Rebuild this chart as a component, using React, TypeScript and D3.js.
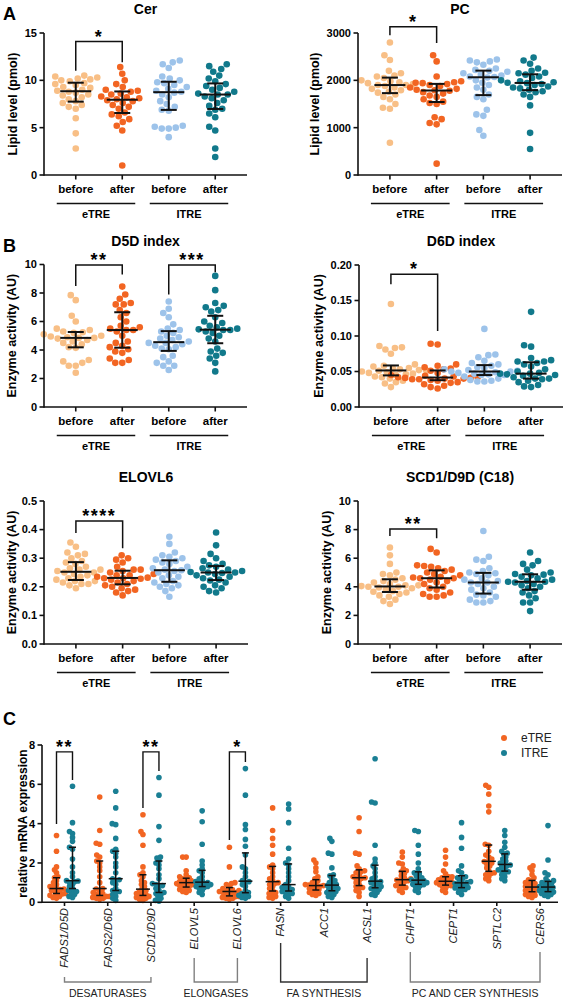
import React from "react";
import * as d3 from "d3";

// ---------- shared labels / colours ----------
const categories = ["before", "after", "before", "after"];
const studyGroups = ["eTRE", "ITRE"];
const groupColors = ["#F8BF86", "#F26522", "#9DC3EA", "#11798B"];
const FONT = "'Liberation Sans', Arial, sans-serif";

// ---------- panel A ----------
const cerEtreBefore = [10.5, 10.4, 10.3, 10.2, 10.1, 10.0, 9.9, 9.7, 9.6, 9.5, 9.3, 9.2, 9.0, 8.9, 8.8, 8.7, 8.5, 8.4, 8.2, 8.0, 7.8, 7.6, 7.4, 7.2, 7.0, 6.0, 4.4, 2.8];
const cerEtreAfter = [11.4, 10.7, 10.0, 9.6, 9.3, 9.0, 8.9, 8.8, 8.6, 8.5, 8.3, 8.2, 8.1, 8.0, 7.9, 7.8, 7.6, 7.4, 7.2, 7.0, 6.6, 6.4, 6.2, 5.9, 5.6, 5.2, 4.7, 1.0];
const cerItreBefore = [12.1, 11.9, 11.7, 11.3, 10.4, 10.2, 10.0, 9.8, 9.7, 9.5, 9.3, 9.1, 8.9, 8.8, 8.7, 8.5, 8.2, 7.8, 7.5, 7.2, 6.9, 6.8, 5.2, 5.1, 5.0, 4.9, 4.9, 4.0];
const cerItreAfter = [11.7, 11.5, 11.2, 10.9, 10.5, 10.2, 9.9, 9.6, 9.4, 9.2, 9.0, 8.8, 8.6, 8.5, 8.5, 8.3, 8.1, 7.9, 7.6, 7.3, 7.0, 6.9, 6.5, 6.1, 5.1, 4.7, 2.8, 1.9];

const pcEtreBefore = [2800, 2530, 2430, 2200, 2150, 2100, 2080, 2050, 2000, 1980, 1960, 1940, 1920, 1900, 1900, 1880, 1850, 1820, 1790, 1760, 1740, 1700, 1650, 1600, 1500, 1420, 1400, 680];
const pcEtreAfter = [2530, 2400, 2080, 1980, 1960, 1950, 1940, 1920, 1900, 1880, 1850, 1820, 1800, 1790, 1780, 1750, 1720, 1680, 1650, 1600, 1550, 1520, 1500, 1220, 1180, 1100, 1070, 240];
const pcItreBefore = [2440, 2420, 2400, 2380, 2330, 2250, 2220, 2200, 2180, 2150, 2120, 2100, 2080, 2070, 2060, 2000, 1950, 1900, 1850, 1800, 1700, 1650, 1600, 1380, 1280, 1250, 950, 830];
const pcItreAfter = [2480, 2420, 2350, 2250, 2200, 2160, 2150, 2120, 2080, 2050, 2000, 1980, 1960, 1950, 1940, 1920, 1900, 1870, 1850, 1830, 1800, 1770, 1750, 1700, 1650, 1470, 890, 550];

// ---------- panel B ----------
const d5dEtreBefore = [7.85, 7.5, 6.4, 6.0, 5.5, 5.4, 5.3, 5.25, 5.2, 5.1, 5.0, 4.95, 4.9, 4.85, 4.85, 4.8, 4.7, 4.6, 4.5, 4.4, 4.2, 4.15, 3.3, 3.2, 3.1, 2.9, 2.9, 2.4];
const d5dEtreAfter = [8.45, 7.9, 7.6, 7.3, 7.2, 7.2, 6.8, 6.6, 6.3, 6.0, 5.7, 5.6, 5.5, 5.4, 5.4, 5.3, 5.0, 4.6, 4.5, 4.3, 4.2, 4.05, 3.9, 3.8, 3.4, 3.3, 3.1, 3.1];
const d5dItreBefore = [7.4, 6.9, 6.6, 6.3, 5.8, 5.5, 5.4, 5.3, 5.2, 5.0, 4.9, 4.8, 4.7, 4.6, 4.5, 4.5, 4.4, 4.3, 4.2, 4.1, 4.05, 3.6, 3.5, 3.2, 3.1, 2.9, 2.9, 2.6];
const d5dItreAfter = [9.2, 8.2, 7.3, 7.1, 7.0, 6.8, 6.7, 6.3, 6.0, 5.9, 5.7, 5.6, 5.5, 5.45, 5.4, 5.4, 5.3, 5.2, 5.0, 4.8, 4.6, 4.1, 3.9, 3.8, 3.6, 3.4, 3.1, 2.5];

const d6dEtreBefore = [0.145, 0.086, 0.084, 0.083, 0.081, 0.075, 0.06, 0.058, 0.057, 0.055, 0.054, 0.053, 0.052, 0.052, 0.051, 0.05, 0.049, 0.048, 0.047, 0.046, 0.045, 0.043, 0.042, 0.04, 0.037, 0.035, 0.033, 0.028];
const d6dEtreAfter = [0.089, 0.088, 0.06, 0.058, 0.056, 0.054, 0.053, 0.051, 0.048, 0.045, 0.044, 0.043, 0.042, 0.042, 0.041, 0.041, 0.04, 0.04, 0.039, 0.039, 0.038, 0.037, 0.035, 0.034, 0.032, 0.03, 0.028, 0.026];
const d6dItreBefore = [0.11, 0.074, 0.073, 0.07, 0.065, 0.062, 0.06, 0.058, 0.056, 0.055, 0.053, 0.052, 0.051, 0.05, 0.05, 0.049, 0.048, 0.047, 0.046, 0.045, 0.045, 0.043, 0.04, 0.038, 0.037, 0.036, 0.036];
const d6dItreAfter = [0.134, 0.087, 0.085, 0.069, 0.066, 0.064, 0.064, 0.062, 0.06, 0.057, 0.053, 0.05, 0.048, 0.047, 0.047, 0.046, 0.045, 0.044, 0.042, 0.04, 0.04, 0.039, 0.037, 0.035, 0.031, 0.029, 0.028];

const elovlEtreBefore = [0.355, 0.34, 0.32, 0.315, 0.31, 0.3, 0.29, 0.285, 0.28, 0.27, 0.265, 0.26, 0.26, 0.255, 0.25, 0.25, 0.245, 0.24, 0.235, 0.23, 0.225, 0.22, 0.22, 0.215, 0.21, 0.21, 0.205, 0.195];
const elovlEtreAfter = [0.31, 0.3, 0.295, 0.285, 0.27, 0.26, 0.26, 0.255, 0.25, 0.245, 0.24, 0.24, 0.235, 0.232, 0.23, 0.23, 0.228, 0.225, 0.22, 0.215, 0.21, 0.205, 0.2, 0.195, 0.19, 0.185, 0.18, 0.17];
const elovlItreBefore = [0.375, 0.35, 0.32, 0.31, 0.305, 0.3, 0.295, 0.29, 0.285, 0.28, 0.27, 0.265, 0.26, 0.258, 0.255, 0.25, 0.24, 0.235, 0.23, 0.22, 0.215, 0.21, 0.205, 0.2, 0.195, 0.185, 0.165];
const elovlItreAfter = [0.39, 0.345, 0.315, 0.3, 0.29, 0.28, 0.275, 0.27, 0.265, 0.26, 0.255, 0.252, 0.25, 0.25, 0.248, 0.245, 0.24, 0.235, 0.23, 0.225, 0.222, 0.215, 0.205, 0.2, 0.195, 0.185, 0.18];

const scdEtreBefore = [6.75, 6.2, 5.6, 5.0, 4.9, 4.8, 4.6, 4.5, 4.4, 4.3, 4.2, 4.1, 4.1, 4.05, 4.0, 4.0, 3.95, 3.9, 3.8, 3.7, 3.65, 3.6, 3.5, 3.4, 3.3, 3.1, 3.0, 2.8];
const scdEtreAfter = [6.65, 6.4, 5.5, 5.45, 5.4, 5.3, 5.2, 5.1, 5.0, 4.9, 4.8, 4.7, 4.65, 4.6, 4.6, 4.5, 4.4, 4.3, 4.2, 4.0, 3.9, 3.8, 3.6, 3.5, 3.4, 3.3, 3.3];
const scdItreBefore = [7.9, 6.1, 5.9, 5.8, 5.3, 5.1, 5.0, 4.95, 4.9, 4.8, 4.6, 4.5, 4.4, 4.3, 4.3, 4.2, 4.0, 3.9, 3.8, 3.6, 3.45, 3.4, 3.3, 3.1, 3.0, 2.9, 2.9];
const scdItreAfter = [6.4, 5.8, 5.6, 5.5, 5.2, 5.0, 4.9, 4.85, 4.8, 4.7, 4.6, 4.5, 4.4, 4.35, 4.35, 4.3, 4.2, 4.1, 4.0, 3.9, 3.7, 3.6, 3.4, 3.2, 2.9, 2.9, 2.3];

// ---------- panel C ----------
const genes = ["FADS1/D5D", "FADS2/D6D", "SCD1/D9D", "ELOVL5", "ELOVL6", "FASN", "ACC1", "ACSL1", "CHPT1", "CEPT1", "SPTLC2", "CERS6"];
const geneEtre = [
  [3.4, 2.6, 1.8, 1.65, 1.5, 1.3, 1.25, 1.1, 1.0, 0.9, 0.8, 0.75, 0.7, 0.68, 0.65, 0.6, 0.55, 0.5, 0.45, 0.42, 0.38, 0.35, 0.3, 0.25, 0.2],
  [5.35, 3.65, 3.0, 2.95, 2.4, 2.3, 2.1, 2.0, 1.8, 1.6, 1.3, 1.0, 0.7, 0.68, 0.6, 0.5, 0.45, 0.4, 0.35, 0.3, 0.3, 0.25, 0.2, 0.2, 0.15],
  [4.45, 3.6, 3.45, 2.9, 1.8, 1.5, 1.4, 1.3, 1.1, 1.0, 0.9, 0.8, 0.67, 0.6, 0.55, 0.5, 0.45, 0.4, 0.35, 0.3, 0.3, 0.25, 0.2, 0.15, 0.1],
  [2.3, 2.3, 1.6, 1.4, 1.3, 1.25, 1.2, 1.15, 1.1, 1.05, 1.0, 1.0, 0.95, 0.9, 0.88, 0.85, 0.8, 0.75, 0.7, 0.65, 0.6, 0.55, 0.5],
  [2.8, 1.8, 1.0, 0.95, 0.9, 0.8, 0.7, 0.65, 0.6, 0.6, 0.55, 0.55, 0.5, 0.5, 0.45, 0.4, 0.35, 0.3, 0.3, 0.25, 0.2, 0.2, 0.15],
  [4.8, 3.65, 3.25, 2.9, 2.45, 1.9, 1.8, 1.7, 1.5, 1.3, 1.2, 1.1, 1.0, 0.95, 0.9, 0.8, 0.7, 0.6, 0.5, 0.45, 0.4, 0.3, 0.25, 0.2],
  [2.15, 2.0, 1.75, 1.55, 1.3, 1.2, 1.1, 1.0, 0.95, 0.9, 0.88, 0.85, 0.82, 0.8, 0.75, 0.7, 0.65, 0.6, 0.55, 0.5, 0.45, 0.4, 0.35],
  [4.3, 3.6, 2.5, 2.45, 1.85, 1.7, 1.6, 1.55, 1.5, 1.4, 1.3, 1.25, 1.22, 1.2, 1.1, 1.0, 0.9, 0.8, 0.75, 0.7, 0.6, 0.5, 0.3],
  [2.55, 2.3, 2.0, 1.95, 1.7, 1.6, 1.55, 1.45, 1.35, 1.25, 1.2, 1.15, 1.13, 1.1, 1.05, 1.0, 0.9, 0.85, 0.8, 0.75, 0.7, 0.6, 0.5],
  [2.65, 2.3, 1.95, 1.6, 1.45, 1.3, 1.3, 1.25, 1.2, 1.15, 1.1, 1.07, 1.05, 1.0, 0.97, 0.95, 0.9, 0.85, 0.85, 0.8, 0.7, 0.6, 0.5],
  [5.95, 5.85, 5.5, 4.9, 4.6, 2.95, 2.9, 2.6, 2.4, 2.3, 2.2, 2.1, 2.07, 2.0, 1.95, 1.85, 1.75, 1.6, 1.5, 1.45, 1.4, 1.3, 1.2, 1.1],
  [1.85, 1.75, 1.6, 1.4, 1.25, 1.15, 1.1, 1.0, 0.95, 0.9, 0.85, 0.8, 0.75, 0.72, 0.7, 0.65, 0.6, 0.55, 0.5, 0.45, 0.4, 0.35, 0.3, 0.25],
];
const geneItre = [
  [5.9, 4.05, 3.6, 3.5, 3.3, 3.1, 2.8, 2.7, 2.2, 1.8, 1.5, 1.3, 1.1, 1.08, 1.05, 1.0, 0.9, 0.8, 0.7, 0.6, 0.55, 0.5, 0.4, 0.3, 0.25],
  [5.65, 4.8, 4.0, 3.95, 3.25, 2.7, 2.6, 2.5, 2.3, 2.0, 1.8, 1.5, 1.2, 1.15, 1.1, 1.0, 0.9, 0.7, 0.6, 0.55, 0.5, 0.4, 0.3, 0.2, 0.1],
  [6.35, 5.45, 3.85, 3.15, 2.3, 2.25, 2.1, 2.0, 1.9, 1.7, 1.4, 1.2, 0.95, 0.9, 0.85, 0.8, 0.7, 0.6, 0.5, 0.45, 0.4, 0.3, 0.2, 0.1, 0.05],
  [4.65, 4.1, 2.95, 2.1, 1.9, 1.7, 1.6, 1.5, 1.3, 1.2, 1.1, 1.05, 1.0, 1.0, 0.95, 0.9, 0.85, 0.8, 0.8, 0.75, 0.7, 0.6, 0.5, 0.4],
  [6.8, 5.45, 3.95, 3.7, 3.2, 2.85, 2.4, 1.8, 1.7, 1.5, 1.3, 1.1, 1.05, 1.0, 0.9, 0.8, 0.6, 0.5, 0.45, 0.4, 0.35, 0.3, 0.25, 0.2],
  [5.0, 4.75, 4.05, 2.75, 2.2, 2.0, 1.9, 1.7, 1.5, 1.3, 1.1, 0.9, 0.8, 0.75, 0.7, 0.65, 0.6, 0.55, 0.5, 0.45, 0.4, 0.3, 0.2],
  [3.25, 3.1, 2.5, 2.45, 1.75, 1.4, 1.35, 1.2, 1.1, 1.0, 0.95, 0.9, 0.85, 0.8, 0.75, 0.7, 0.65, 0.6, 0.55, 0.5, 0.45, 0.4, 0.3, 0.25],
  [7.3, 5.1, 5.05, 2.9, 2.2, 2.0, 1.85, 1.7, 1.5, 1.3, 1.2, 1.1, 1.05, 1.0, 0.95, 0.9, 0.8, 0.75, 0.7, 0.65, 0.6, 0.5, 0.4, 0.35],
  [3.65, 3.6, 2.9, 2.45, 2.0, 1.7, 1.5, 1.45, 1.35, 1.25, 1.2, 1.15, 1.1, 1.08, 1.05, 1.0, 0.95, 0.92, 0.9, 0.85, 0.8, 0.7, 0.6, 0.5],
  [4.05, 3.3, 2.75, 1.85, 1.6, 1.5, 1.3, 1.25, 1.2, 1.1, 1.05, 1.0, 0.98, 0.95, 0.9, 0.85, 0.8, 0.75, 0.73, 0.7, 0.65, 0.6, 0.5, 0.4],
  [3.65, 3.4, 3.05, 2.8, 2.6, 2.5, 2.45, 2.3, 2.2, 2.1, 2.0, 1.95, 1.9, 1.85, 1.8, 1.7, 1.65, 1.6, 1.55, 1.5, 1.4, 1.3, 1.2, 1.1],
  [3.9, 2.15, 1.5, 1.4, 1.2, 1.1, 1.05, 1.0, 0.95, 0.9, 0.85, 0.8, 0.75, 0.72, 0.7, 0.65, 0.6, 0.55, 0.52, 0.5, 0.45, 0.4, 0.35, 0.3],
];
const geneFamilies = [
  { name: "DESATURASES", from: "FADS1/D5D", to: "SCD1/D9D" },
  { name: "ELONGASES", from: "ELOVL5", to: "ELOVL6" },
  { name: "FA SYNTHESIS", from: "FASN", to: "ACSL1" },
  { name: "PC AND CER SYNTHESIS", from: "CHPT1", to: "CERS6" },
];

type Bracket = { a: number; b: number; top: number; left: number; right: number; label: string };

function stats(vals: number[]) {
  const s = [...vals].sort(d3.ascending);
  return { q1: d3.quantile(s, 0.25)!, med: d3.quantile(s, 0.5)!, q3: d3.quantile(s, 0.75)! };
}

// simple beeswarm: each dot goes as close to the centre line as spacing allows
function swarm(values: number[], y: (v: number) => number, cx: number, minD: number) {
  const pts = values.map((v) => y(v)).sort((a, b) => b - a);
  const placed: { x: number; y: number }[] = [];
  for (const py of pts) {
    let off = 0;
    for (let k = 0; k < 600; k++) {
      const cand = (k % 2 === 1 ? -1 : 1) * Math.ceil(k / 2) * 0.5;
      const ok = placed.every((q) => {
        const dx = q.x - (cx + cand);
        const dy = q.y - py;
        return dx * dx + dy * dy >= minD * minD;
      });
      if (ok) {
        off = cand;
        break;
      }
    }
    placed.push({ x: cx + off, y: py });
  }
  return placed;
}

type PanelProps = {
  title: string;
  yLabel: string;
  labelX: number;
  values: number[][];
  domain: [number, number];
  ticks: number[];
  fmt: (v: number) => string;
  box: { x0: number; x1: number; top: number; bottom: number };
  brackets: Bracket[];
};

const DotPanel = ({ title, yLabel, labelX, values, domain, ticks, fmt, box, brackets }: PanelProps) => {
  const y = d3.scaleLinear().domain(domain).range([box.bottom, box.top]);
  const x = d3.scalePoint<number>().domain([0, 1, 2, 3]).range([box.x0, box.x1]).padding(0.683);
  const cy = (box.top + box.bottom) / 2;
  return (
    <g fontFamily={FONT}>
      <text x={(box.x0 + box.x1) / 2} y={box.top - 19} textAnchor="middle" fontSize={14} fontWeight="bold">{title}</text>
      <text transform={`translate(${labelX},${cy}) rotate(-90)`} textAnchor="middle" dy="0.35em" fontSize={12.5} fontWeight="bold">{yLabel}</text>
      {values.map((vals, i) =>
        swarm(vals, y, x(i)!, 6.9).map((p, j) => (
          <circle key={`${i}-${j}`} cx={p.x} cy={p.y} r={3.3} fill={groupColors[i]} />
        ))
      )}
      {values.map((vals, i) => {
        const s = stats(vals);
        const cx = x(i)!;
        return (
          <g key={`e${i}`} stroke="#111" strokeWidth={2}>
            <line x1={cx} x2={cx} y1={y(s.q1)} y2={y(s.q3)} />
            <line x1={cx - 15.5} x2={cx + 15.5} y1={y(s.med)} y2={y(s.med)} />
            <line x1={cx - 8} x2={cx + 8} y1={y(s.q1)} y2={y(s.q1)} />
            <line x1={cx - 8} x2={cx + 8} y1={y(s.q3)} y2={y(s.q3)} />
          </g>
        );
      })}
      <g stroke="#111" strokeWidth={1.6}>
        <line x1={box.x0} x2={box.x0} y1={y(domain[1])} y2={box.bottom + 0.8} />
        <line x1={box.x0} x2={box.x1} y1={box.bottom} y2={box.bottom} />
        {ticks.map((t) => (
          <line key={t} x1={box.x0 - 4.5} x2={box.x0} y1={y(t)} y2={y(t)} />
        ))}
        {categories.map((c, i) => (
          <line key={i} x1={x(i)} x2={x(i)} y1={box.bottom} y2={box.bottom + 4.5} />
        ))}
      </g>
      {ticks.map((t) => (
        <text key={t} x={box.x0 - 7} y={y(t)} dy="0.35em" textAnchor="end" fontSize={11} fontWeight="bold">{fmt(t)}</text>
      ))}
      {categories.map((c, i) => (
        <text key={i} x={x(i)} y={box.bottom + 18} textAnchor="middle" fontSize={11.5} fontWeight="bold">{c}</text>
      ))}
      {studyGroups.map((g, k) => {
        const a = x(2 * k)! - 19;
        const b = x(2 * k + 1)! + 13;
        return (
          <g key={g}>
            <line x1={a} x2={b} y1={box.bottom + 28.5} y2={box.bottom + 28.5} stroke="#111" strokeWidth={1.4} />
            <text x={(a + b) / 2} y={box.bottom + 43} textAnchor="middle" fontSize={11} fontWeight="bold">{g}</text>
          </g>
        );
      })}
      {brackets.map((br, k) => {
        const xa = x(br.a)!;
        const xb = x(br.b)!;
        const yt = y(br.top);
        return (
          <g key={k}>
            <path d={`M${xa},${y(br.left)}V${yt}H${xb}V${y(br.right)}`} fill="none" stroke="#111" strokeWidth={1.5} />
            <text x={(xa + xb) / 2} y={yt + 1} textAnchor="middle" fontSize={18} fontWeight="bold" letterSpacing={1.5}>{br.label}</text>
          </g>
        );
      })}
    </g>
  );
};

const GenePanel = () => {
  const y = d3.scaleLinear().domain([0, 8]).range([902.3, 745]);
  const x = d3.scalePoint<string>().domain(genes).range([64.5, 540]);
  const off = 8;
  const cColors = ["#F26522", "#1A7F94"];
  const sig: { gene: string; top: number; left: number; right: number; label: string }[] = [
    { gene: "FADS1/D5D", top: 7.65, left: 3.98, right: 6.22, label: "**" },
    { gene: "SCD1/D9D", top: 7.65, left: 4.8, right: 6.68, label: "**" },
    { gene: "ELOVL6", top: 7.65, left: 3.17, right: 7.14, label: "*" },
  ];
  const familyStart: Record<string, [number, number]> = {
    DESATURASES: [977, 977],
    ELONGASES: [958, 958],
    "FA SYNTHESIS": [943, 958],
    "PC AND CER SYNTHESIS": [952, 952],
  };
  return (
    <g fontFamily={FONT}>
      <text transform={`translate(23,${(745 + 902) / 2}) rotate(-90)`} textAnchor="middle" dy="0.35em" fontSize={12} fontWeight="bold">relative mRNA expression</text>
      {[geneEtre, geneItre].map((set, s) =>
        set.map((vals, gi) => {
          const cx = x(genes[gi])! + (s === 0 ? -off : off);
          return swarm(vals, y, cx, 3.4).map((p, j) => (
            <circle key={`${s}-${gi}-${j}`} cx={p.x} cy={p.y} r={2.8} fill={cColors[s]} />
          ));
        })
      )}
      {[geneEtre, geneItre].map((set, s) =>
        set.map((vals, gi) => {
          const cx = x(genes[gi])! + (s === 0 ? -off : off);
          const st = stats(vals);
          return (
            <g key={`e${s}-${gi}`} stroke="#111" strokeWidth={1.5}>
              <line x1={cx} x2={cx} y1={y(st.q1)} y2={y(st.q3)} />
              <line x1={cx - 7} x2={cx + 7} y1={y(st.med)} y2={y(st.med)} />
              <line x1={cx - 3.5} x2={cx + 3.5} y1={y(st.q1)} y2={y(st.q1)} />
              <line x1={cx - 3.5} x2={cx + 3.5} y1={y(st.q3)} y2={y(st.q3)} />
            </g>
          );
        })
      )}
      <g stroke="#111" strokeWidth={1.6}>
        <line x1={42} x2={42} y1={y(8)} y2={902.3 + 0.8} />
        <line x1={42} x2={558} y1={902.3} y2={902.3} />
        {[0, 2, 4, 6, 8].map((t) => (
          <line key={t} x1={37.5} x2={42} y1={y(t)} y2={y(t)} />
        ))}
        {genes.map((g) => (
          <line key={g} x1={x(g)} x2={x(g)} y1={902.3} y2={906} />
        ))}
      </g>
      {[0, 2, 4, 6, 8].map((t) => (
        <text key={t} x={35} y={y(t)} dy="0.35em" textAnchor="end" fontSize={11} fontWeight="bold">{t}</text>
      ))}
      {genes.map((g) => (
        <text key={g} transform={`translate(${x(g)},908) rotate(-90)`} textAnchor="end" dy="0.35em" fontSize={11} fontStyle="italic" fill="#222">{g}</text>
      ))}
      {geneFamilies.map((f) => {
        const a = x(f.from)!;
        const b = x(f.to)!;
        const [sa, sb] = familyStart[f.name];
        const stroke = f.name === "FA SYNTHESIS" ? "#333" : "#808080";
        return (
          <g key={f.name}>
            <path d={`M${a},${sa}V982H${b}V${sb}`} fill="none" stroke={stroke} strokeWidth={1.4} />
            <text x={(a + b) / 2} y={997} textAnchor="middle" fontSize={10.5} fill="#222">{f.name}</text>
          </g>
        );
      })}
      {sig.map((s) => {
        const xa = x(s.gene)! - off;
        const xb = x(s.gene)! + off;
        const yt = y(s.top);
        return (
          <g key={s.gene}>
            <path d={`M${xa},${y(s.left)}V${yt}H${xb}V${y(s.right)}`} fill="none" stroke="#111" strokeWidth={1.4} />
            <text x={(xa + xb) / 2} y={yt + 1.5} textAnchor="middle" fontSize={18} fontWeight="bold" letterSpacing={1.5}>{s.label}</text>
          </g>
        );
      })}
      {studyGroups.map((g, i) => (
        <g key={g}>
          <circle cx={504} cy={738 + i * 15} r={3} fill={cColors[i]} />
          <text x={521} y={738 + i * 15} dy="0.35em" fontSize={12} fill="#222">{g}</text>
        </g>
      ))}
    </g>
  );
};

const App = () => {
  const f0 = d3.format("d");
  return (
    <svg width={565} height={1000} style={{ position: "absolute", left: 0, top: 0, background: "#fff" }}>
      <rect width={565} height={1000} fill="#fff" />
      <g fontFamily={FONT} fontWeight="bold" fontSize={18}>
        <text x={3} y={20}>A</text>
        <text x={3} y={252}>B</text>
        <text x={3} y={725}>C</text>
      </g>
      <DotPanel title="Cer" yLabel="Lipid level (pmol)" labelX={12.7}
        values={[cerEtreBefore, cerEtreAfter, cerItreBefore, cerItreAfter]}
        domain={[0, 15]} ticks={[0, 5, 10, 15]} fmt={f0}
        box={{ x0: 44, x1: 247, top: 33, bottom: 175 }}
        brackets={[{ a: 0, b: 1, top: 14.1, left: 11.0, right: 11.9, label: "*" }]} />
      <DotPanel title="PC" yLabel="Lipid level (pmol)" labelX={315}
        values={[pcEtreBefore, pcEtreAfter, pcItreBefore, pcItreAfter]}
        domain={[0, 3000]} ticks={[0, 1000, 2000, 3000]} fmt={f0}
        box={{ x0: 358, x1: 562, top: 33, bottom: 175 }}
        brackets={[{ a: 0, b: 1, top: 3130, left: 2950, right: 2790, label: "*" }]} />
      <DotPanel title="D5D index" yLabel="Enzyme activity (AU)" labelX={12}
        values={[d5dEtreBefore, d5dEtreAfter, d5dItreBefore, d5dItreAfter]}
        domain={[0, 10]} ticks={[0, 2, 4, 6, 8, 10]} fmt={f0}
        box={{ x0: 44, x1: 247, top: 264.5, bottom: 407 }}
        brackets={[
          { a: 0, b: 1, top: 9.96, left: 8.5, right: 9.3, label: "**" },
          { a: 2, b: 3, top: 9.96, left: 7.9, right: 9.45, label: "***" },
        ]} />
      <DotPanel title="D6D index" yLabel="Enzyme activity (AU)" labelX={319}
        values={[d6dEtreBefore, d6dEtreAfter, d6dItreBefore, d6dItreAfter]}
        domain={[0, 0.2]} ticks={[0, 0.05, 0.1, 0.15, 0.2]} fmt={d3.format(".2f")}
        box={{ x0: 359, x1: 563, top: 265, bottom: 407 }}
        brackets={[{ a: 0, b: 1, top: 0.187, left: 0.173, right: 0.107, label: "*" }]} />
      <DotPanel title="ELOVL6" yLabel="Enzyme activity (AU)" labelX={12}
        values={[elovlEtreBefore, elovlEtreAfter, elovlItreBefore, elovlItreAfter]}
        domain={[0, 0.5]} ticks={[0, 0.1, 0.2, 0.3, 0.4, 0.5]} fmt={d3.format(".1f")}
        box={{ x0: 44, x1: 248, top: 501, bottom: 644 }}
        brackets={[{ a: 0, b: 1, top: 0.43, left: 0.388, right: 0.335, label: "****" }]} />
      <DotPanel title="SCD1/D9D (C18)" yLabel="Enzyme activity (AU)" labelX={327}
        values={[scdEtreBefore, scdEtreAfter, scdItreBefore, scdItreAfter]}
        domain={[0, 10]} ticks={[0, 2, 4, 6, 8, 10]} fmt={f0}
        box={{ x0: 358, x1: 562, top: 501, bottom: 644 }}
        brackets={[{ a: 0, b: 1, top: 8.04, left: 7.55, right: 7.4, label: "**" }]} />
      <GenePanel />
    </svg>
  );
};

export default App;
